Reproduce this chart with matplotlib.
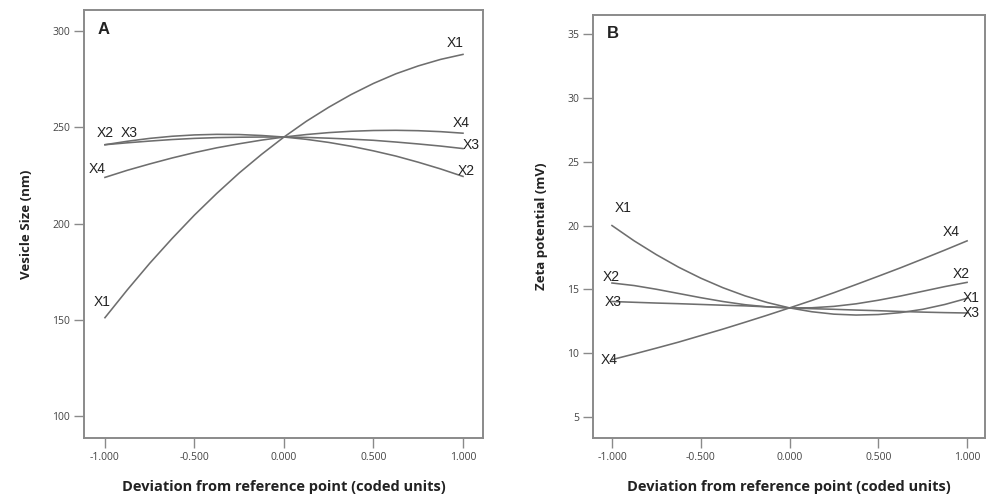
import matplotlib
matplotlib.use('Agg')
from matplotlib import pyplot as plt

# coded factor levels
x_levels = [-1.0, -0.875, -0.75, -0.625, -0.5, -0.375, -0.25, -0.125, 0.0,
            0.125, 0.25, 0.375, 0.5, 0.625, 0.75, 0.875, 1.0]

# panel A: vesicle size (nm)
size_x1 = [151.0, 165.5, 179.3, 192.2, 204.4, 215.7, 226.3, 236.0, 245.0,
           253.2, 260.5, 267.1, 272.9, 277.9, 282.0, 285.4, 288.0]
size_x2 = [241.0, 242.8, 244.3, 245.4, 246.1, 246.4, 246.3, 245.8, 245.0,
           243.8, 242.2, 240.2, 237.8, 235.1, 231.9, 228.4, 224.5]
size_x3 = [241.0, 242.0, 242.9, 243.7, 244.3, 244.7, 244.9, 245.0, 245.0,
           244.8, 244.4, 243.9, 243.3, 242.4, 241.4, 240.3, 239.0]
size_x4 = [224.0, 227.7, 231.0, 234.1, 236.9, 239.4, 241.5, 243.4, 245.0,
           246.3, 247.3, 248.0, 248.4, 248.5, 248.3, 247.8, 247.0]

# panel B: zeta potential (mV)
zeta_x1 = [20.0, 18.8, 17.72, 16.74, 15.88, 15.13, 14.49, 13.97, 13.55,
           13.25, 13.06, 12.99, 13.03, 13.18, 13.44, 13.82, 14.3]
zeta_x2 = [15.5, 15.3, 15.01, 14.68, 14.35, 14.05, 13.8, 13.63, 13.55,
           13.56, 13.67, 13.87, 14.15, 14.48, 14.85, 15.22, 15.55]
zeta_x3 = [14.05, 13.99, 13.93, 13.88, 13.82, 13.76, 13.71, 13.63, 13.55,
           13.49, 13.44, 13.38, 13.33, 13.27, 13.22, 13.18, 13.15]
zeta_x4 = [9.5, 9.94, 10.4, 10.87, 11.38, 11.89, 12.43, 12.98, 13.55,
           14.13, 14.74, 15.38, 16.03, 16.69, 17.38, 18.08, 18.8]

x_ticks = [-1.0, -0.5, 0.0, 0.5, 1.0]
x_ticklabels = ['-1.000', '-0.500', '0.000', '0.500', '1.000']

LINE = '#6e6e6e'
SPINE = '#8a8a8a'
TXT = '#222222'

plt.rcParams['font.family'] = ['Open Sans', 'DejaVu Sans']

fig = plt.figure(figsize=(9.86, 5.0), dpi=100)
axA = fig.add_axes([0.0852, 0.124, 0.4047, 0.856])
axB = fig.add_axes([0.6014, 0.124, 0.3976, 0.847])


def style_axis(ax, yticks, ylabel, letter):
    for s in ax.spines.values():
        s.set_color(SPINE)
        s.set_linewidth(1.4)
    ax.set_xticks(x_ticks)
    ax.set_xticklabels(x_ticklabels)
    ax.set_yticks(yticks)
    ax.tick_params(axis='both', direction='out', length=7, width=1.0,
                   color=SPINE, labelsize=7.5, labelcolor='#444444', pad=3)
    ax.set_xlabel('Deviation from reference point (coded units)',
                  fontsize=10.5, fontweight='bold', color=TXT, labelpad=12)
    ax.set_ylabel(ylabel, fontsize=9.5, fontweight='bold', color=TXT, labelpad=14)
    ax.text(0.035, 0.955, letter, transform=ax.transAxes, fontsize=12,
            fontweight='bold', color=TXT, family='Liberation Sans',
            ha='left', va='center')


def label(ax, x, y, s):
    ax.text(x, y, s, fontsize=10, color=TXT, family='Liberation Sans',
            ha='center', va='center')


# ---- panel A
for ys in (size_x1, size_x2, size_x3, size_x4):
    axA.plot(x_levels, ys, color=LINE, lw=1.15)
axA.set_xlim(-1.117, 1.112)
axA.set_ylim(88.4, 311.1)
style_axis(axA, [100, 150, 200, 250, 300], 'Vesicle Size (nm)', 'A')
label(axA, 0.955, 293.9, 'X1')
label(axA, 0.99, 252.3, 'X4')
label(axA, 1.045, 240.8, 'X3')
label(axA, 1.017, 227.3, 'X2')
label(axA, -1.0, 247.1, 'X2')
label(axA, -0.865, 247.1, 'X3')
label(axA, -1.045, 228.4, 'X4')
label(axA, -1.018, 159.3, 'X1')

# ---- panel B
for ys in (zeta_x1, zeta_x2, zeta_x3, zeta_x4):
    axB.plot(x_levels, ys, color=LINE, lw=1.15)
axB.set_xlim(-1.107, 1.101)
axB.set_ylim(3.36, 36.53)
style_axis(axB, [5, 10, 15, 20, 25, 30, 35], 'Zeta potential (mV)', 'B')
label(axB, -0.938, 21.4, 'X1')
label(axB, 0.91, 19.5, 'X4')
label(axB, -1.006, 15.97, 'X2')
label(axB, -0.994, 14.04, 'X3')
label(axB, -1.017, 9.47, 'X4')
label(axB, 0.966, 16.2, 'X2')
label(axB, 1.023, 14.33, 'X1')
label(axB, 1.023, 13.15, 'X3')

fig.savefig('out.png', dpi=100)
